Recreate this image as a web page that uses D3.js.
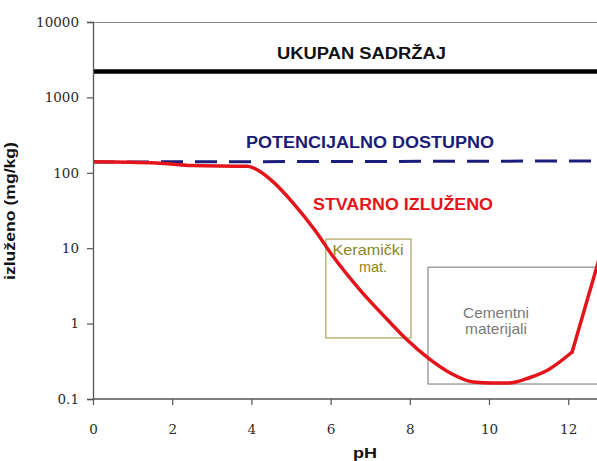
<!DOCTYPE html>
<html><head><meta charset="utf-8">
<script src="https://cdn.jsdelivr.net/npm/d3@7"></script>
<style>body{margin:0;background:#fff}svg{display:block}</style>
</head><body>
<script>
// ---- data ----
const xTicks = [0, 2, 4, 6, 8, 10, 12];
const yTicks = [0.1, 1, 10, 100, 1000, 10000];
const yTickLabels = ["0.1", "1", "10", "100", "1000", "10000"];
const ukupanPH = [0, 14];
const ukupanVal = [2200, 2200];
const potencijalnoPH = [0, 14];
const potencijalnoVal = [139, 144];
const stvarnoPH = [0, 1.6, 2.5, 3.9, 4.05, 4.5, 5.05, 5.6, 6.06, 6.74, 7.42, 7.93, 8.46, 9.02, 9.6, 10.1, 10.5, 11.0, 11.5, 12.1, 13.0];
const stvarnoVal = [140, 135, 125, 122, 116, 80, 40, 17.4, 7.8, 2.8, 1.15, 0.61, 0.35, 0.221, 0.168, 0.163, 0.163, 0.19, 0.245, 0.42, 18];
const boxNames = ["Keramički|mat.", "Cementni|materijali"];
const boxPH = [[5.88, 8.03], [8.46, 14]];
const boxVal = [[0.645, 13.2], [0.158, 5.6]];
const seriesLabels = ["UKUPAN SADRŽAJ", "POTENCIJALNO DOSTUPNO", "STVARNO IZLUŽENO"];

const W = 597, H = 461;
const svg = d3.select("body").append("svg").attr("width", W).attr("height", H);
const x = d3.scaleLinear().domain([0, 14]).range([93, 93 + 39.6 * 14]);
const y = d3.scaleLog().domain([0.1, 10000]).range([399, 22]);

svg.append("defs").append("clipPath").attr("id", "clip")
  .append("rect").attr("x", 93).attr("y", 22).attr("width", 600).attr("height", 377);

// top frame line
svg.append("line").attr("x1", 93).attr("x2", W).attr("y1", 22.5).attr("y2", 22.5)
  .attr("stroke", "#8a8a8a").attr("stroke-width", 1);

const plot = svg.append("g").attr("clip-path", "url(#clip)");

// boxes
const boxStroke = ["#a9a35a", "#8c8c8c"];
const boxText = ["#86861c", "#7a7a7a"];
const boxTextPos = [[[368, 255, 71], [373, 272, 28]], [[496, 318, 66], [496, 334, 62]]];
boxNames.forEach((n, i) => {
  plot.append("rect")
    .attr("x", x(boxPH[i][0])).attr("y", y(boxVal[i][1]))
    .attr("width", x(boxPH[i][1]) - x(boxPH[i][0]))
    .attr("height", y(boxVal[i][0]) - y(boxVal[i][1]))
    .attr("fill", "none").attr("stroke", boxStroke[i]).attr("stroke-width", 1.2);
  n.split("|").forEach((t, j) => {
    svg.append("text").attr("x", boxTextPos[i][j][0]).attr("y", boxTextPos[i][j][1])
      .attr("text-anchor", "middle").attr("font-family", "Liberation Sans, Arial, sans-serif")
      .attr("font-size", 15).attr("fill", boxText[i])
      .attr("textLength", boxTextPos[i][j][2]).attr("lengthAdjust", "spacingAndGlyphs")
      .text(t);
  });
});

const lineLin = d3.line().x(d => x(d[0])).y(d => y(d[1]));
const lineSmooth = d3.line().x(d => x(d[0])).y(d => y(d[1])).curve(d3.curveMonotoneX);
plot.append("path").datum(ukupanPH.map((p, i) => [p, ukupanVal[i]]))
  .attr("d", lineLin).attr("fill", "none").attr("stroke", "#000").attr("stroke-width", 4.5);
plot.append("path").datum(potencijalnoPH.map((p, i) => [p, potencijalnoVal[i]]))
  .attr("d", lineLin).attr("fill", "none").attr("stroke", "#1c1c7c").attr("stroke-width", 3)
  .attr("stroke-dasharray", "22,12");
const stv = stvarnoPH.map((p, i) => [p, stvarnoVal[i]]);
const n = stv.length;
plot.append("path").datum(stv.slice(0, n - 1))
  .attr("d", lineSmooth).attr("fill", "none").attr("stroke", "#e4141b")
  .attr("stroke-width", 3.5).attr("stroke-linejoin", "round").attr("stroke-linecap", "round");
plot.append("path").datum(stv.slice(n - 2))
  .attr("d", lineLin).attr("fill", "none").attr("stroke", "#e4141b")
  .attr("stroke-width", 3.5).attr("stroke-linecap", "round");

// axes
const yAxis = svg.append("g").attr("transform", "translate(93,0)")
  .call(d3.axisLeft(y).tickValues(yTicks).tickFormat((d, i) => yTickLabels[i]).tickSize(6).tickPadding(8));
const xAxis = svg.append("g").attr("transform", "translate(0,399)")
  .call(d3.axisBottom(x).tickValues(xTicks).tickSize(6).tickPadding(19));
xAxis.select(".domain").attr("d", `M${x(0)},0H${W}`);
[yAxis, xAxis].forEach(a => {
  a.select(".domain").attr("stroke", "#555").attr("stroke-width", 1.3);
  a.selectAll(".tick line").attr("stroke", "#555").attr("stroke-width", 1.2);
  a.selectAll("text").attr("font-family", "DejaVu Serif, serif").attr("font-size", 13.5).attr("fill", "#2a2a2a");
});

// series labels
const lab = [[277, 59, 169, "#111"], [246, 148, 248, "#1c1c78"], [313, 210, 180, "#e4141b"]];
seriesLabels.forEach((t, i) => {
  svg.append("text").attr("x", lab[i][0]).attr("y", lab[i][1])
    .attr("font-family", "Liberation Sans, Arial, sans-serif").attr("font-weight", "bold")
    .attr("font-size", 16).attr("fill", lab[i][3])
    .attr("textLength", lab[i][2]).attr("lengthAdjust", "spacingAndGlyphs").text(t);
});

// axis titles
svg.append("text").attr("transform", "translate(15,211) rotate(-90)")
  .attr("text-anchor", "middle").attr("font-family", "Liberation Sans, Arial, sans-serif")
  .attr("font-weight", "bold").attr("font-size", 14).attr("fill", "#111")
  .attr("textLength", 138).attr("lengthAdjust", "spacingAndGlyphs").text("izluženo (mg/kg)");
svg.append("text").attr("x", 365).attr("y", 458).attr("text-anchor", "middle")
  .attr("font-family", "Liberation Sans, Arial, sans-serif").attr("font-weight", "bold")
  .attr("font-size", 15).attr("fill", "#111")
  .attr("textLength", 24).attr("lengthAdjust", "spacingAndGlyphs").text("pH");
</script>
</body></html>
